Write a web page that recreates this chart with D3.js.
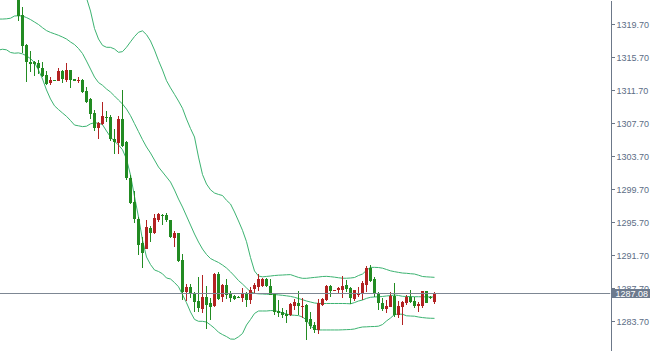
<!DOCTYPE html>
<meta charset="utf-8">
<style>
  body { margin: 0; background: #fff; }
  svg { display: block; }
  .axis text { font-family: 'Liberation Sans', Arial, sans-serif; font-size: 9px; fill: #5b6d86; }
</style>
<svg width="650" height="351"></svg>
<script src="https://d3js.org/d3.v7.min.js"></script>
<script>
// candles (first candle sits on bar 5, bands start on bar 0)
var firstBar = 5;

var opens = [1323.62,1320.83,1317.19,1315.13,1315.13,1315.05,1314.37,1313.55,1312.55,1312.99,
  1312.86,1314.08,1312.95,1314.16,1313.07,1312.89,1312.95,1311.66,1310.59,1308.91,
  1307.17,1307.58,1308.43,1308.43,1305.83,1305.35,1308.19,1305.43,1301.11,1298.12,
  1296.12,1293.23,1292.50,1295.01,1294.44,1295.98,1296.58,1296.62,1295.98,1293.83,
  1294.37,1291.13,1287.29,1287.86,1287.17,1286.12,1285.17,1286.68,1285.92,1285.55,
  1289.47,1286.65,1288.10,1287.01,1286.77,1286.67,1286.58,1287.13,1286.29,1287.62,
  1287.86,1288.00,1288.79,1287.98,1286.95,1284.95,1284.83,1284.58,1284.46,1285.55,
  1285.92,1285.47,1285.68,1283.94,1283.25,1282.65,1285.71,1286.29,1287.98,1287.46,
  1287.50,1287.50,1288.14,1287.70,1286.44,1286.85,1287.09,1288.10,1290.12,1288.79,
  1287.09,1285.95,1285.16,1285.47,1286.73,1284.52,1285.47,1285.92,1286.68,1286.20,
  1285.61,1285.55,1287.37,1286.65,1286.07];

var highs = [1324.34,1321.83,1317.31,1316.46,1315.25,1315.37,1315.09,1314.08,1313.31,1313.01,
  1314.40,1314.16,1315.05,1314.22,1313.13,1313.31,1313.03,1312.06,1310.83,1309.35,
  1307.80,1310.28,1309.23,1308.67,1307.05,1308.58,1311.74,1305.55,1301.43,1299.53,
  1296.38,1293.95,1295.98,1295.25,1296.71,1296.86,1296.71,1296.77,1296.04,1294.61,
  1294.46,1291.86,1288.18,1288.18,1287.31,1289.07,1289.31,1287.94,1286.49,1289.55,
  1289.62,1288.28,1288.83,1287.37,1286.83,1286.77,1287.68,1287.21,1287.80,1288.34,
  1289.40,1288.89,1288.89,1288.83,1287.01,1286.29,1285.27,1285.07,1285.86,1286.37,
  1287.37,1286.49,1285.80,1284.86,1283.65,1286.46,1286.49,1288.10,1288.06,1287.55,
  1287.86,1289.19,1288.67,1287.80,1287.55,1287.86,1288.58,1290.40,1290.52,1289.07,
  1287.25,1286.52,1286.29,1287.25,1288.31,1286.20,1286.20,1286.89,1287.50,1286.65,
  1286.07,1287.37,1287.43,1286.77,1287.29];

var lows = [1320.14,1316.22,1312.75,1313.96,1313.43,1313.67,1313.28,1312.34,1312.38,1312.89,
  1312.83,1312.62,1312.75,1312.02,1312.86,1312.62,1311.41,1310.20,1308.19,1306.79,
  1305.83,1307.55,1307.90,1305.55,1303.94,1303.94,1304.79,1300.83,1297.92,1295.58,
  1291.68,1290.12,1292.46,1293.31,1294.28,1295.77,1295.37,1295.77,1293.80,1292.75,
  1290.92,1286.28,1286.20,1286.49,1284.86,1284.86,1284.74,1282.73,1283.80,1285.49,
  1286.28,1285.98,1286.37,1286.07,1286.34,1286.52,1285.98,1285.47,1285.74,1287.07,
  1287.37,1287.82,1287.82,1286.83,1284.46,1284.26,1284.06,1283.46,1284.40,1285.07,
  1284.46,1284.16,1281.44,1282.71,1282.25,1282.16,1285.55,1286.22,1286.65,1287.40,
  1287.01,1286.49,1287.25,1285.80,1286.16,1286.65,1286.29,1287.29,1288.46,1286.65,
  1285.07,1284.95,1284.67,1285.43,1284.26,1284.06,1283.25,1285.68,1285.88,1285.37,
  1284.86,1285.31,1285.92,1286.46,1285.80];

var closes = [1320.71,1317.11,1315.09,1314.93,1314.89,1314.37,1313.43,1312.46,1312.95,1312.91,
  1314.08,1313.07,1314.16,1312.95,1312.89,1312.99,1311.50,1310.32,1308.86,1307.17,
  1307.77,1308.58,1308.34,1305.76,1305.47,1308.19,1304.98,1301.03,1298.08,1296.06,
  1292.98,1291.94,1295.13,1294.44,1296.18,1296.71,1296.50,1295.92,1293.88,1294.44,
  1291.05,1287.29,1287.86,1286.95,1286.07,1285.27,1286.68,1285.68,1285.47,1289.47,
  1286.40,1288.16,1286.83,1286.58,1286.46,1286.61,1287.09,1286.29,1287.50,1288.16,
  1288.77,1288.79,1287.98,1286.89,1284.86,1284.71,1284.46,1284.34,1285.80,1285.98,
  1285.55,1285.59,1283.65,1283.13,1282.65,1285.86,1286.44,1287.98,1287.37,1287.53,
  1287.70,1287.98,1287.58,1286.49,1287.46,1287.17,1288.38,1290.12,1288.58,1287.13,
  1285.88,1285.16,1285.55,1286.77,1284.46,1285.55,1286.07,1286.68,1286.07,1285.50,
  1285.74,1287.37,1285.95,1286.58,1287.08];

// bollinger bands, one value per bar
var upperBand = [1324.10,1324.00,1324.12,1324.58,1325.22,1325.24,1325.29,1325.17,1325.02,1324.89,
  1325.19,1325.51,1326.14,1326.79,1327.28,1327.36,1327.37,1327.29,1327.07,1327.01,
  1326.14,1325.02,1322.89,1321.31,1319.19,1317.92,1317.15,1316.92,1316.91,1316.71,
  1316.31,1316.39,1316.92,1317.58,1318.22,1318.74,1318.91,1318.45,1317.68,1316.58,
  1315.31,1314.16,1312.87,1312.00,1311.21,1310.40,1309.52,1308.22,1307.07,1306.04,
  1303.61,1301.49,1300.34,1299.64,1299.25,1299.08,1298.95,1298.37,1297.92,1296.95,
  1295.86,1294.73,1293.35,1291.43,1289.80,1289.19,1289.09,1289.14,1289.19,1289.25,
  1289.29,1289.31,1289.34,1289.36,1289.19,1289.02,1288.91,1288.91,1288.97,1289.02,
  1289.07,1289.13,1289.15,1289.11,1289.05,1288.98,1288.92,1288.92,1288.95,1289.01,
  1289.25,1289.43,1289.88,1290.24,1290.24,1290.22,1290.14,1289.98,1289.82,1289.72,
  1289.63,1289.55,1289.52,1289.47,1289.43,1289.29,1289.13,1289.09,1289.06,1289.03];

var middleBand = [1320.34,1320.34,1320.37,1320.44,1320.71,1320.74,1320.71,1320.52,1320.28,1319.98,
  1319.68,1319.29,1318.94,1318.72,1318.55,1318.37,1318.16,1317.92,1317.56,1317.25,
  1316.77,1316.16,1315.25,1314.28,1313.31,1312.64,1312.31,1311.86,1311.49,1311.01,
  1310.52,1310.04,1309.43,1308.63,1307.66,1306.69,1305.72,1304.83,1304.10,1303.25,
  1302.40,1301.80,1301.19,1300.58,1299.61,1298.52,1297.55,1296.46,1295.37,1294.28,
  1293.31,1292.46,1291.80,1291.31,1291.06,1290.83,1290.52,1290.16,1289.70,1289.19,
  1288.64,1288.22,1287.74,1287.28,1287.09,1287.03,1287.01,1286.98,1286.97,1286.95,
  1286.90,1286.85,1286.79,1286.72,1286.61,1286.46,1286.32,1286.16,1286.04,1285.92,
  1285.87,1285.86,1285.86,1285.86,1285.86,1285.86,1285.86,1285.85,1285.82,1285.97,
  1286.16,1286.28,1286.48,1286.61,1286.65,1286.67,1286.71,1286.77,1286.82,1286.89,
  1286.83,1286.73,1286.71,1286.70,1286.68,1286.68,1286.67,1286.66,1286.65,1286.65];

var lowerBand = [1316.58,1316.68,1316.61,1316.29,1316.20,1316.24,1316.12,1315.88,1315.54,1315.07,
  1314.16,1313.07,1311.74,1310.65,1309.82,1309.37,1308.95,1308.55,1308.04,1307.49,
  1307.40,1307.30,1307.35,1307.64,1307.77,1307.71,1307.54,1306.77,1306.04,1305.52,
  1305.07,1304.50,1303.37,1301.43,1298.83,1296.34,1293.55,1291.49,1290.58,1289.92,
  1289.74,1289.46,1288.95,1288.83,1288.40,1287.89,1286.92,1285.95,1284.83,1283.93,
  1283.70,1283.70,1283.61,1283.25,1282.86,1282.37,1282.09,1281.85,1281.55,1281.53,
  1281.82,1282.22,1283.25,1283.92,1284.65,1284.95,1284.95,1284.95,1285.00,1285.00,
  1284.87,1284.73,1284.58,1284.46,1284.43,1284.39,1284.22,1283.86,1283.11,1282.77,
  1282.65,1282.65,1282.65,1282.65,1282.65,1282.65,1282.67,1282.69,1282.71,1282.77,
  1282.91,1283.01,1283.03,1283.06,1283.07,1283.11,1283.31,1283.74,1284.10,1284.52,
  1284.58,1284.55,1284.37,1284.34,1284.32,1284.22,1284.15,1284.10,1284.07,1284.06];

var priceTicks = [1319.70,1315.70,1311.70,1307.70,1303.70,1299.70,1295.70,1291.70,1287.70,1283.70];
var lastPrice = 1287.08;

var svg = d3.select("svg"),
    width = +svg.attr("width"),
    height = +svg.attr("height"),
    plotRight = 610.5;

var x = d3.scaleLinear()
    .domain([0, 109])
    .range([-1.5, 434.5]);

var y = d3.scaleLinear()
    .domain([1322.65, 1280.10])
    .range([0, height]);

svg.append("defs").append("clipPath")
    .attr("id", "plot")
  .append("rect")
    .attr("width", plotRight)
    .attr("height", height);

var plot = svg.append("g").attr("clip-path", "url(#plot)");

var band = d3.line()
    .x(function(d, i) { return x(i); })
    .y(function(d) { return y(d); });

[upperBand, middleBand, lowerBand].forEach(function(b) {
  plot.append("path")
      .datum(b)
      .attr("fill", "none")
      .attr("stroke", "#3cb371")
      .attr("stroke-width", 1)
      .attr("d", band);
});

var candles = opens.map(function(o, i) {
  return {bar: i + firstBar, open: o, high: highs[i], low: lows[i], close: closes[i]};
});

function colour(d) { return d.close >= d.open ? "#b22222" : "#228b22"; }

var c = plot.selectAll(".candle")
    .data(candles)
  .enter().append("g")
    .attr("class", "candle")
    .attr("shape-rendering", "crispEdges");

c.append("line")
    .attr("x1", function(d) { return x(d.bar); })
    .attr("x2", function(d) { return x(d.bar); })
    .attr("y1", function(d) { return y(d.high); })
    .attr("y2", function(d) { return y(d.low); })
    .attr("stroke", colour);

c.append("rect")
    .attr("x", function(d) { return x(d.bar) - 1.5; })
    .attr("width", 3)
    .attr("y", function(d) { return y(Math.max(d.open, d.close)); })
    .attr("height", function(d) { return Math.max(1, Math.abs(y(d.open) - y(d.close))); })
    .attr("fill", colour);

// bid line
plot.append("line")
    .attr("x1", 0)
    .attr("x2", plotRight)
    .attr("y1", Math.round(y(lastPrice)) + 0.5)
    .attr("y2", Math.round(y(lastPrice)) + 0.5)
    .attr("stroke", "#7d8793")
    .attr("stroke-width", 1);

var axis = svg.append("g")
    .attr("class", "axis")
    .attr("transform", "translate(" + plotRight + ",0)")
    .call(d3.axisRight(y)
      .tickValues(priceTicks)
      .tickSize(4)
      .tickSizeOuter(0)
      .tickPadding(2)
      .tickFormat(d3.format(".2f")));

axis.selectAll("path, line").attr("stroke", "#6c7889").attr("shape-rendering", "crispEdges");

var tag = svg.append("g")
    .attr("transform", "translate(" + (plotRight + 1) + "," + Math.round(y(lastPrice)) + ")");

tag.append("rect")
    .attr("x", 0)
    .attr("y", -4)
    .attr("width", 39)
    .attr("height", 9)
    .attr("fill", "#6c7a8e");

tag.append("text")
    .attr("x", 4)
    .attr("y", 0.5)
    .attr("dy", "0.35em")
    .attr("fill", "#fff")
    .style("font-family", "'Liberation Sans', Arial, sans-serif")
    .style("font-size", "9px")
    .text(d3.format(".2f")(lastPrice));
</script>
